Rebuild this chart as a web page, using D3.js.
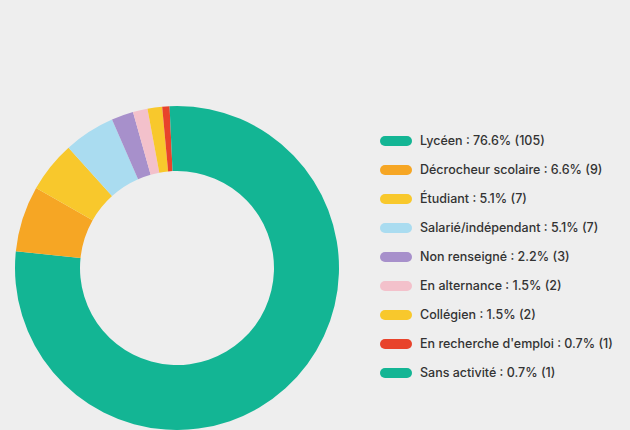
<!DOCTYPE html>
<html>
<head>
<meta charset="utf-8">
<script src="https://cdn.jsdelivr.net/npm/d3@7"></script>
<style>
  html, body { margin: 0; padding: 0; background: #eeeeee; }
  svg { display: block; }
</style>
</head>
<body>
<svg id="chart" width="630" height="430"></svg>
<script>
const categories = ["Lycéen", "Décrocheur scolaire", "Étudiant", "Salarié/indépendant", "Non renseigné", "En alternance", "Collégien", "En recherche d'emploi", "Sans activité"];
const counts = [105, 9, 7, 7, 3, 2, 2, 1, 1];
const percents = ["76.6%", "6.6%", "5.1%", "5.1%", "2.2%", "1.5%", "1.5%", "0.7%", "0.7%"];
const colors = ["#13b594", "#f6a624", "#f8c82c", "#aadcf0", "#a790cb", "#f3c1cb", "#f8c82c", "#e8432b", "#13b594"];

const svg = d3.select("#chart");
const W = 630, H = 430;
svg.append("rect").attr("width", W).attr("height", H).attr("fill", "#eeeeee");

const data = categories.map((c, i) => ({ name: c, value: counts[i], pct: percents[i], color: colors[i] }));

const cx = 177, cy = 268, rOuter = 162, rInner = 97;
const pie = d3.pie().value(d => d.value).sort(null);
const arc = d3.arc().innerRadius(rInner).outerRadius(rOuter);

const g = svg.append("g").attr("transform", `translate(${cx},${cy})`);
g.selectAll("path").data(pie(data)).join("path")
  .attr("d", arc)
  .attr("fill", d => d.data.color);

const y = d3.scalePoint().domain(categories).range([141, 373]);
const leg = svg.append("g");
const rows = leg.selectAll("g").data(data).join("g")
  .attr("transform", d => `translate(0,${y(d.name)})`);
rows.append("rect")
  .attr("x", 380).attr("y", -5).attr("width", 32).attr("height", 10)
  .attr("rx", 5).attr("ry", 5)
  .attr("fill", d => d.color);
rows.append("text")
  .attr("x", 420).attr("y", 0).attr("dy", "0.35em")
  .attr("font-family", "Inter, 'Noto Sans', sans-serif")
  .attr("font-size", 12.5)
  .attr("font-weight", 500)
  .attr("fill", "#333333")
  .text(d => `${d.name} : ${d.pct} (${d.value})`);
</script>
</body>
</html>
